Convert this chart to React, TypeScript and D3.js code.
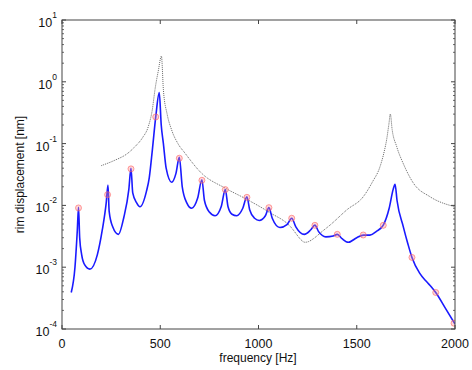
import * as d3 from "d3";

// measured-response curve (blue)
const blueFreq = [47, 66, 78, 84, 90, 100, 115, 142, 180, 205, 225, 234, 240, 258, 287, 315, 340, 351, 360, 380, 397, 430, 444, 460, 477, 495, 505, 516, 530, 558, 580, 597, 612, 635, 660, 690, 712, 725, 750, 779, 810, 831, 845, 865, 889, 920, 941, 955, 980, 1004, 1035, 1053, 1070, 1109, 1145, 1169, 1190, 1233, 1265, 1287, 1305, 1343, 1380, 1401, 1425, 1457, 1500, 1533, 1567, 1600, 1635, 1665, 1685, 1695, 1705, 1737, 1760, 1781, 1820, 1856, 1880, 1902, 1950, 2000];
const blueDisp = [3.9e-4, 1.0e-3, 4e-3, 0.0093, 3e-3, 1.6e-3, 1.1e-3, 9.3e-4, 1.6e-3, 4e-3, 0.011, 0.0214, 0.008, 0.0045, 0.0034, 0.0065, 0.018, 0.04, 0.016, 0.011, 0.0095, 0.017, 0.028, 0.08, 0.27, 0.667, 0.2, 0.1, 0.04, 0.0237, 0.033, 0.06, 0.02, 0.011, 0.009, 0.013, 0.026, 0.012, 0.0078, 0.0068, 0.0095, 0.018, 0.0095, 0.0072, 0.0068, 0.009, 0.0138, 0.0085, 0.0062, 0.0057, 0.0068, 0.0092, 0.0062, 0.0044, 0.0049, 0.0062, 0.0045, 0.0034, 0.004, 0.0048, 0.0038, 0.0031, 0.0032, 0.0034, 0.0029, 0.00253, 0.003, 0.0033, 0.0033, 0.0038, 0.0048, 0.009, 0.018, 0.022, 0.012, 0.0045, 0.0024, 0.00144, 8e-4, 5.8e-4, 4.8e-4, 3.9e-4, 2.2e-4, 1.2e-4];

// model curve (dotted)
const modelFreq = [200, 270, 330, 371, 410, 439, 460, 473, 490, 506, 516, 535, 558, 590, 626, 711, 831, 941, 1053, 1169, 1200, 1215, 1237, 1255, 1280, 1320, 1364, 1450, 1533, 1580, 1618, 1640, 1652, 1663, 1671, 1680, 1703, 1740, 1788, 1873, 2000];
const modelDisp = [0.044, 0.054, 0.068, 0.089, 0.125, 0.188, 0.36, 0.74, 1.5, 2.6, 0.74, 0.3, 0.166, 0.1, 0.07, 0.033, 0.019, 0.0125, 0.0078, 0.0043, 0.0032, 0.0028, 0.00253, 0.0026, 0.0029, 0.0037, 0.0048, 0.0085, 0.0138, 0.024, 0.042, 0.075, 0.115, 0.2, 0.3, 0.17, 0.09, 0.045, 0.023, 0.0138, 0.0095];

// marked points
const markFreq = [84, 232, 351, 477, 597, 712, 831, 941, 1053, 1169, 1287, 1401, 1533, 1635, 1781, 1902, 1995];
const markDisp = [0.0091, 0.0149, 0.039, 0.27, 0.058, 0.0255, 0.018, 0.0135, 0.0092, 0.0062, 0.00476, 0.0034, 0.00332, 0.00476, 0.00144, 0.00039, 0.000124];

const xTicks = [0, 500, 1000, 1500, 2000];
const yExps = [-4, -3, -2, -1, 0, 1];

const W = 472;
const H = 370;
const left = 62, right = 455, top = 20, bottom = 329;
const font = "'Liberation Sans', Arial, Helvetica, sans-serif";
const axisColor = "#444";

export default function App() {
  const x = d3.scaleLinear().domain([0, 2000]).range([left, right]);
  const y = d3.scaleLog().domain([1e-4, 10]).range([bottom, top]);

  const blueLine = d3
    .line<number>()
    .x((d) => x(d))
    .y((_, i) => y(blueDisp[i]))
    .curve(d3.curveMonotoneX)(blueFreq);

  const modelLine = d3
    .line<number>()
    .x((d) => x(d))
    .y((_, i) => y(modelDisp[i]))
    .curve(d3.curveMonotoneX)(modelFreq);

  const minor: number[] = [];
  yExps.slice(0, -1).forEach((e) => {
    for (let k = 2; k <= 9; k++) minor.push(k * Math.pow(10, e));
  });

  return (
    <div style={{ position: "fixed", left: 0, top: 0 }}>
      <svg width={W} height={H} viewBox={`0 0 ${W} ${H}`} style={{ display: "block", background: "#fff" }}>
        <defs>
          <clipPath id="plot">
            <rect x={left} y={top} width={right - left} height={bottom - top} />
          </clipPath>
        </defs>

        <g clipPath="url(#plot)">
          <path d={modelLine ?? ""} fill="none" stroke="#555" strokeWidth={0.9} strokeDasharray="1,1" />
          <path d={blueLine ?? ""} fill="none" stroke="#1a1aff" strokeWidth={1.6} />
          {markFreq.map((f, i) => (
            <circle
              key={i}
              cx={x(f)}
              cy={y(markDisp[i])}
              r={3}
              fill="#ff9090"
              fillOpacity={0.35}
              stroke="#ff6060"
              strokeOpacity={0.6}
              strokeWidth={1}
            />
          ))}
        </g>

        {/* box */}
        <rect x={left} y={top} width={right - left} height={bottom - top} fill="none" stroke={axisColor} strokeWidth={1} />

        {/* x ticks */}
        {xTicks.map((t) => (
          <g key={t}>
            <line x1={x(t)} x2={x(t)} y1={bottom} y2={bottom - 4} stroke={axisColor} />
            <line x1={x(t)} x2={x(t)} y1={top} y2={top + 4} stroke={axisColor} />
            <text x={x(t)} y={348} textAnchor="middle" fontFamily={font} fontSize={12.5} fill="#111">
              {t}
            </text>
          </g>
        ))}

        {/* y ticks */}
        {yExps.map((e) => {
          const yy = y(Math.pow(10, e));
          return (
            <g key={e}>
              <line x1={left} x2={left + 4} y1={yy} y2={yy} stroke={axisColor} />
              <line x1={right} x2={right - 4} y1={yy} y2={yy} stroke={axisColor} />
              <text x={57} y={yy + 7} textAnchor="end" fontFamily={font} fontSize={12.5} fill="#111">
                10
                <tspan dy={-9} fontSize={8.5}>
                  {e}
                </tspan>
              </text>
            </g>
          );
        })}
        {minor.map((v, i) => (
          <g key={i}>
            <line x1={left} x2={left + 2} y1={y(v)} y2={y(v)} stroke={axisColor} strokeWidth={0.8} />
            <line x1={right} x2={right - 2} y1={y(v)} y2={y(v)} stroke={axisColor} strokeWidth={0.8} />
          </g>
        ))}

        <text x={258} y={362} textAnchor="middle" fontFamily={font} fontSize={12} fill="#111">
          frequency [Hz]
        </text>
        <text
          transform={`translate(24,${(top + bottom) / 2}) rotate(-90)`}
          textAnchor="middle"
          fontFamily={font}
          fontSize={12}
          fill="#111"
        >
          rim displacement [nm]
        </text>
      </svg>
    </div>
  );
}
